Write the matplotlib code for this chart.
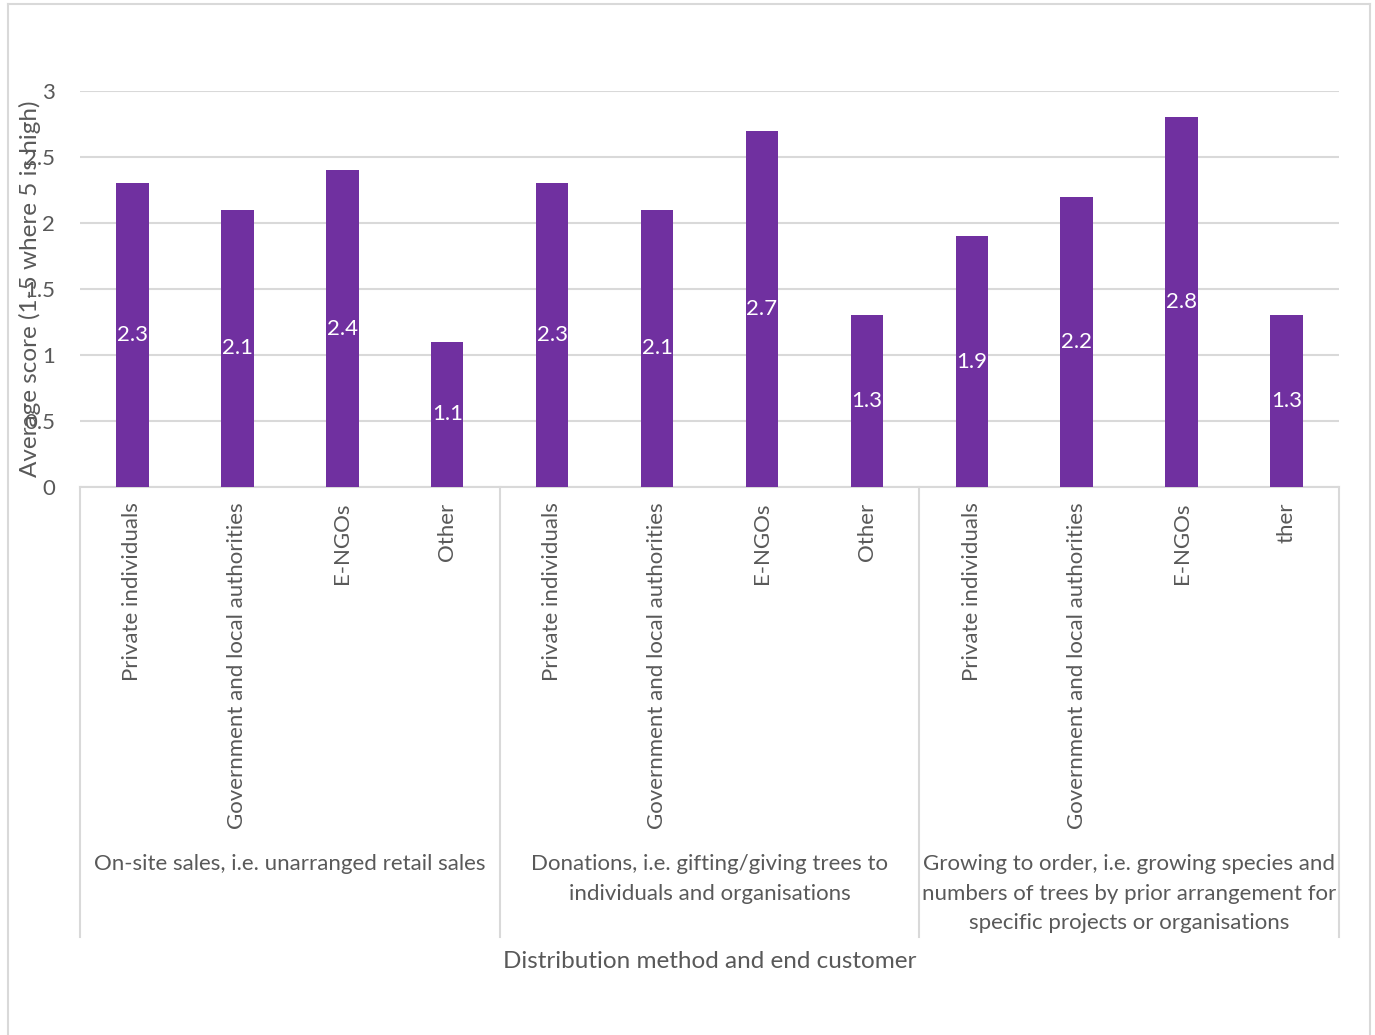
import matplotlib
matplotlib.use("Agg")
import matplotlib.pyplot as plt
import matplotlib.transforms as mtransforms
from matplotlib.lines import Line2D

plt.rcParams['font.family'] = ['Lato', 'DejaVu Sans']

# Data
groups = [
    "On-site sales, i.e. unarranged retail sales",
    "Donations, i.e. gifting/giving trees to\nindividuals and organisations",
    "Growing to order, i.e. growing species and\nnumbers of trees by prior arrangement for\nspecific projects or organisations",
]
categories = [
    "Private individuals", "Government and local authorities", "E-NGOs", "Other",
    "Private individuals", "Government and local authorities", "E-NGOs", "Other",
    "Private individuals", "Government and local authorities", "E-NGOs", "ther",
]
scores = [2.3, 2.1, 2.4, 1.1, 2.3, 2.1, 2.7, 1.3, 1.9, 2.2, 2.8, 1.3]
y_ticks = [0, 0.5, 1, 1.5, 2, 2.5, 3]
y_tick_labels = ["0", "0.5", "1", "1.5", "2", "2.5", "3"]

BAR = "#7030A0"
TXT = "#595959"
GRID = "#D9D9D9"
W, H = 1375, 1035
FS = 16

fig = plt.figure(figsize=(W / 100, H / 100), dpi=100)
fig.patch.set_facecolor("white")

# axes box in pixel terms
left, right, bottom, top = 80, 1339, 487, 91
ax = fig.add_axes([left / W, 1 - bottom / H, (right - left) / W, (bottom - top) / H])

x = list(range(len(scores)))
ax.bar(x, scores, width=0.31, color=BAR, zorder=3)
ax.set_xlim(-0.5, len(scores) - 0.5)
ax.set_ylim(0, 3)

ax.set_yticks(y_ticks)
ax.set_yticklabels(y_tick_labels)
ax.yaxis.grid(True, color=GRID, linewidth=1.5, zorder=0)
ax.tick_params(axis="y", length=0, pad=18, labelsize=FS, labelcolor=TXT)

ax.set_xticks(x)
ax.set_xticklabels(categories, rotation=90, va="top", ha="center")
ax.tick_params(axis="x", length=0, pad=11, labelsize=FS, labelcolor=TXT)

for side in ("top", "right", "left"):
    ax.spines[side].set_visible(False)
ax.spines["bottom"].set_color(GRID)
ax.spines["bottom"].set_linewidth(1.5)

# value labels centred inside bars
for xi, v in zip(x, scores):
    ax.text(xi, v / 2, f"{v:g}", ha="center", va="center", color="white",
            fontsize=FS, zorder=4)

# group separators and group labels below the category labels
blend = mtransforms.blended_transform_factory(ax.transData, ax.transAxes)
px = 1.0 / (bottom - top)
sep_bottom = -(937 - bottom) * px
for xs in [-0.5, 3.5, 7.5, 11.5]:
    ax.add_line(Line2D([xs, xs], [0, sep_bottom], transform=blend, color=GRID,
                       linewidth=1.5, clip_on=False))
for gi, label in enumerate(groups):
    xc = gi * 4 + 1.5
    ax.text(xc, -(854 - bottom) * px, label, transform=blend, ha="center",
            va="top", fontsize=FS, color=TXT, linespacing=1.6)

ax.text(5.5, -(961 - bottom) * px, "Distribution method and end customer",
        transform=blend, ha="center", va="center", fontsize=17.5, color=TXT)

fig.text(30 / W, 1 - 289 / H, "Average score (1-5 where 5 is high)",
         rotation=90, ha="center", va="center", fontsize=17.5, color=TXT)

# chart area border
for xs, ys in [([8, 8], [4, H]), ([8, 1370], [4, 4]), ([1370, 1370], [4, H])]:
    fig.add_artist(Line2D([v / W for v in xs], [1 - v / H for v in ys],
                          transform=fig.transFigure, color=GRID, linewidth=1.5))

fig.savefig("out.png", dpi=100, facecolor="white")
